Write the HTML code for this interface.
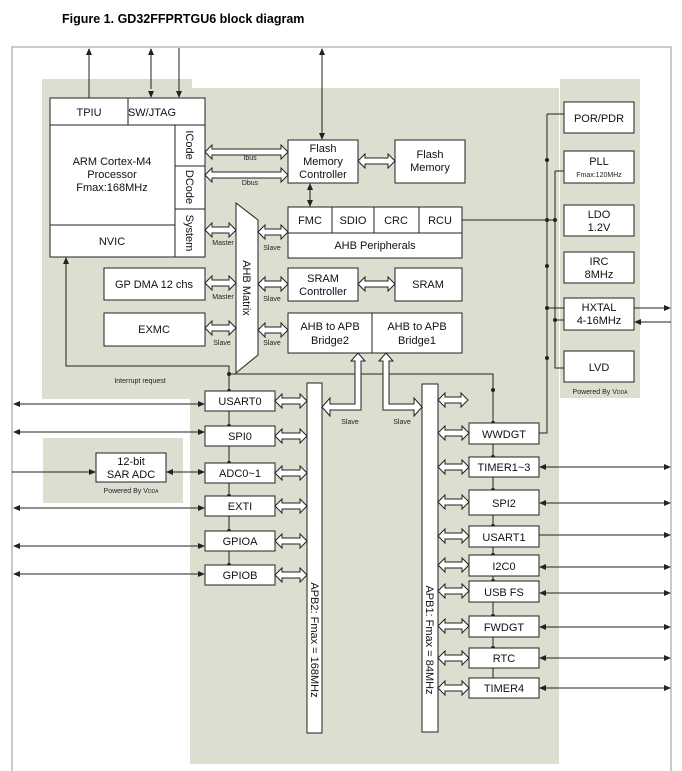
<!DOCTYPE html>
<html><head><meta charset="utf-8"><style>
html,body{margin:0;padding:0;background:#fff;}
svg{display:block;font-family:"Liberation Sans",Arial,sans-serif;}
</style></head><body>
<svg width="682" height="771" viewBox="0 0 682 771" xmlns="http://www.w3.org/2000/svg">
<text x="62" y="23" font-size="12.5" font-weight="bold">Figure 1. GD32FFPRTGU6 block diagram</text>
<path d="M12,771 V47 H671 V771" fill="none" stroke="#b8b8b8" stroke-width="1.5"/>
<g fill="#dcdfd0">
<rect x="42" y="79" width="150" height="320"/>
<rect x="190" y="88" width="369" height="676"/>
<rect x="560" y="79" width="80" height="319"/>
<rect x="43" y="438" width="140" height="65"/>
</g>
<g fill="#fff" stroke="#222" stroke-width="1">
<rect x="50" y="98" width="155" height="159"/>
<line x1="50" y1="125" x2="205" y2="125"/>
<line x1="128" y1="98" x2="128" y2="125"/>
<line x1="175" y1="125" x2="175" y2="257"/>
<line x1="175" y1="166" x2="205" y2="166"/>
<line x1="175" y1="209" x2="205" y2="209"/>
<line x1="50" y1="225" x2="175" y2="225"/>
<rect x="288" y="140" width="70" height="43"/>
<rect x="395" y="140" width="70" height="43"/>
<rect x="288" y="207" width="174" height="51"/>
<line x1="288" y1="233" x2="462" y2="233"/>
<line x1="332" y1="207" x2="332" y2="233"/>
<line x1="374" y1="207" x2="374" y2="233"/>
<line x1="419" y1="207" x2="419" y2="233"/>
<rect x="104" y="268" width="101" height="32"/>
<rect x="104" y="313" width="101" height="33"/>
<rect x="288" y="268" width="70" height="33"/>
<rect x="395" y="268" width="67" height="33"/>
<rect x="288" y="313" width="174" height="40"/>
<line x1="372" y1="313" x2="372" y2="353"/>
<polygon points="236,203 258,220 258,355 236,373"/>
<rect x="564" y="102" width="70" height="31"/>
<rect x="564" y="151" width="70" height="32"/>
<rect x="564" y="205" width="70" height="31"/>
<rect x="564" y="252" width="70" height="31"/>
<rect x="564" y="298" width="70" height="32"/>
<rect x="564" y="351" width="70" height="31"/>
<rect x="307" y="383" width="15" height="350"/>
<rect x="422" y="384" width="16" height="348"/>
<rect x="96" y="453" width="70" height="29"/>
</g>
<g stroke="#222" stroke-width="1" fill="none">
<line x1="89" y1="98" x2="89" y2="52"/>
<line x1="151" y1="52" x2="151" y2="89"/>
<line x1="179" y1="48" x2="179" y2="94"/>
<line x1="322" y1="52" x2="322" y2="136"/>
<line x1="310" y1="187" x2="310" y2="203"/>
<path d="M66,261 V366 H229 V585"/>
<path d="M229,374 H493 V688"/>
<path d="M547,114 H564 M547,114 V433 H539"/>
<path d="M555,171 H564 M555,171 V368 H564"/>
<path d="M462,220 H555"/>
<path d="M547,308 H564 M555,320 H564"/>
<path d="M634,308 H667 M671,322 H638"/>
<line x1="17" y1="404" x2="201" y2="404"/>
<line x1="17" y1="432" x2="201" y2="432"/>
<line x1="12" y1="472" x2="92" y2="472"/>
<line x1="170" y1="472" x2="201" y2="472"/>
<line x1="17" y1="508" x2="201" y2="508"/>
<line x1="17" y1="546" x2="201" y2="546"/>
<line x1="17" y1="574" x2="201" y2="574"/>
<line x1="543" y1="467" x2="667" y2="467"/>
<line x1="543" y1="503" x2="667" y2="503"/>
<line x1="539" y1="535" x2="667" y2="535"/>
<line x1="543" y1="567" x2="667" y2="567"/>
<line x1="543" y1="593" x2="667" y2="593"/>
<line x1="543" y1="627" x2="667" y2="627"/>
<line x1="543" y1="658" x2="667" y2="658"/>
<line x1="543" y1="688" x2="667" y2="688"/>
</g>
<g fill="#222">
<polygon points="89,48 86,55 92,55"/>
<polygon points="151,48 148,55 154,55"/>
<polygon points="151,98 148,91 154,91"/>
<polygon points="179,98 176,91 182,91"/>
<polygon points="322,48 319,55 325,55"/>
<polygon points="322,140 319,133 325,133"/>
<polygon points="310,183 307,190 313,190"/>
<polygon points="310,207 307,200 313,200"/>
<polygon points="66,257 63,264 69,264"/>
<polygon points="671,308 664,305 664,311"/>
<polygon points="634,322 641,319 641,325"/>
<polygon points="13,404 20,401 20,407"/><polygon points="205,404 198,401 198,407"/>
<polygon points="13,432 20,429 20,435"/><polygon points="205,432 198,429 198,435"/>
<polygon points="96,472 89,469 89,475"/>
<polygon points="166,472 173,469 173,475"/><polygon points="205,472 198,469 198,475"/>
<polygon points="13,508 20,505 20,511"/><polygon points="205,508 198,505 198,511"/>
<polygon points="13,546 20,543 20,549"/><polygon points="205,546 198,543 198,549"/>
<polygon points="13,574 20,571 20,577"/><polygon points="205,574 198,571 198,577"/>
<polygon points="539,467 546,464 546,470"/><polygon points="671,467 664,464 664,470"/>
<polygon points="539,503 546,500 546,506"/><polygon points="671,503 664,500 664,506"/>
<polygon points="671,535 664,532 664,538"/>
<polygon points="539,567 546,564 546,570"/><polygon points="671,567 664,564 664,570"/>
<polygon points="539,593 546,590 546,596"/><polygon points="671,593 664,590 664,596"/>
<polygon points="539,627 546,624 546,630"/><polygon points="671,627 664,624 664,630"/>
<polygon points="539,658 546,655 546,661"/><polygon points="671,658 664,655 664,661"/>
<polygon points="539,688 546,685 546,691"/><polygon points="671,688 664,685 664,691"/>
<circle cx="229" cy="374" r="2"/><circle cx="229" cy="391" r="2"/><circle cx="229" cy="426" r="2"/>
<circle cx="229" cy="463" r="2"/><circle cx="229" cy="496" r="2"/><circle cx="229" cy="531" r="2"/><circle cx="229" cy="565" r="2"/>
<circle cx="493" cy="390" r="2"/><circle cx="493" cy="423" r="2"/><circle cx="493" cy="457" r="2"/><circle cx="493" cy="490" r="2"/>
<circle cx="493" cy="526" r="2"/><circle cx="493" cy="555" r="2"/><circle cx="493" cy="581" r="2"/><circle cx="493" cy="616" r="2"/><circle cx="493" cy="648" r="2"/>
<circle cx="547" cy="160" r="2"/><circle cx="547" cy="220" r="2"/><circle cx="555" cy="220" r="2"/><circle cx="547" cy="266" r="2"/>
<circle cx="547" cy="308" r="2"/><circle cx="555" cy="320" r="2"/><circle cx="547" cy="358" r="2"/>
</g>
<g fill="#fff" stroke="#222" stroke-width="1">
<polygon points="205,152 212,145 212,149 281,149 281,145 288,152 281,159 281,155 212,155 212,159"/>
<polygon points="205,175 212,168 212,172 281,172 281,168 288,175 281,182 281,178 212,178 212,182"/>
<polygon points="358,161 365,154 365,158 388,158 388,154 395,161 388,168 388,164 365,164 365,168"/>
<polygon points="205,230 212,223 212,227 229,227 229,223 236,230 229,237 229,233 212,233 212,237"/>
<polygon points="258,232 265,225 265,229 281,229 281,225 288,232 281,239 281,235 265,235 265,239"/>
<polygon points="205,283 212,276 212,280 229,280 229,276 236,283 229,290 229,286 212,286 212,290"/>
<polygon points="258,284 265,277 265,281 281,281 281,277 288,284 281,291 281,287 265,287 265,291"/>
<polygon points="358,284 365,277 365,281 388,281 388,277 395,284 388,291 388,287 365,287 365,291"/>
<polygon points="205,328 212,321 212,325 229,325 229,321 236,328 229,335 229,331 212,331 212,335"/>
<polygon points="258,330 265,323 265,327 281,327 281,323 288,330 281,337 281,333 265,333 265,337"/>
<polygon points="358,353 365,361 361,361 361,410 330,410 330,416 322,407 330,398 330,404 355,404 355,361 351,361"/>
<polygon points="386,353 393,361 389,361 389,404 414,404 414,398 422,407 414,416 414,410 383,410 383,361 379,361"/>
<polygon points="275,401 282,394 282,398 300,398 300,394 307,401 300,408 300,404 282,404 282,408"/>
<polygon points="275,436 282,429 282,433 300,433 300,429 307,436 300,443 300,439 282,439 282,443"/>
<polygon points="275,473 282,466 282,470 300,470 300,466 307,473 300,480 300,476 282,476 282,480"/>
<polygon points="275,506 282,499 282,503 300,503 300,499 307,506 300,513 300,509 282,509 282,513"/>
<polygon points="275,541 282,534 282,538 300,538 300,534 307,541 300,548 300,544 282,544 282,548"/>
<polygon points="275,575 282,568 282,572 300,572 300,568 307,575 300,582 300,578 282,578 282,582"/>
<polygon points="438,400 445,393 445,397 461,397 461,393 468,400 461,407 461,403 445,403 445,407"/>
<polygon points="438,433 445,426 445,430 462,430 462,426 469,433 462,440 462,436 445,436 445,440"/>
<polygon points="438,467 445,460 445,464 462,464 462,460 469,467 462,474 462,470 445,470 445,474"/>
<polygon points="438,502 445,495 445,499 462,499 462,495 469,502 462,509 462,505 445,505 445,509"/>
<polygon points="438,536 445,529 445,533 462,533 462,529 469,536 462,543 462,539 445,539 445,543"/>
<polygon points="438,565 445,558 445,562 462,562 462,558 469,565 462,572 462,568 445,568 445,572"/>
<polygon points="438,591 445,584 445,588 462,588 462,584 469,591 462,598 462,594 445,594 445,598"/>
<polygon points="438,626 445,619 445,623 462,623 462,619 469,626 462,633 462,629 445,629 445,633"/>
<polygon points="438,658 445,651 445,655 462,655 462,651 469,658 462,665 462,661 445,661 445,665"/>
<polygon points="438,688 445,681 445,685 462,685 462,681 469,688 462,695 462,691 445,691 445,695"/>
<rect x="205" y="391" width="70" height="20"/>
<rect x="205" y="426" width="70" height="20"/>
<rect x="205" y="463" width="70" height="20"/>
<rect x="205" y="496" width="70" height="20"/>
<rect x="205" y="531" width="70" height="20"/>
<rect x="205" y="565" width="70" height="20"/>
<rect x="469" y="423" width="70" height="21"/>
<rect x="469" y="457" width="70" height="20"/>
<rect x="469" y="490" width="70" height="25"/>
<rect x="469" y="526" width="70" height="21"/>
<rect x="469" y="555" width="70" height="21"/>
<rect x="469" y="581" width="70" height="21"/>
<rect x="469" y="616" width="70" height="21"/>
<rect x="469" y="648" width="70" height="20"/>
<rect x="469" y="678" width="70" height="20"/>
</g>
<g font-size="11" fill="#111" text-anchor="middle">
<text x="89" y="116">TPIU</text>
<text x="152" y="116">SW/JTAG</text>
<text x="112" y="165">ARM Cortex-M4</text>
<text x="112" y="178">Processor</text>
<text x="112" y="191">Fmax:168MHz</text>
<text x="112" y="245">NVIC</text>
<text x="154" y="288">GP DMA 12 chs</text>
<text x="154" y="333">EXMC</text>
<text x="323" y="152">Flash</text>
<text x="323" y="165">Memory</text>
<text x="323" y="178">Controller</text>
<text x="430" y="158">Flash</text>
<text x="430" y="171">Memory</text>
<text x="310" y="224">FMC</text>
<text x="353" y="224">SDIO</text>
<text x="396" y="224">CRC</text>
<text x="440" y="224">RCU</text>
<text x="375" y="249">AHB Peripherals</text>
<text x="323" y="282">SRAM</text>
<text x="323" y="295">Controller</text>
<text x="428" y="288">SRAM</text>
<text x="330" y="330">AHB to APB</text>
<text x="330" y="344">Bridge2</text>
<text x="417" y="330">AHB to APB</text>
<text x="417" y="344">Bridge1</text>
<text x="599" y="122">POR/PDR</text>
<text x="599" y="165">PLL</text>
<text x="599" y="218">LDO</text>
<text x="599" y="231">1.2V</text>
<text x="599" y="265">IRC</text>
<text x="599" y="278">8MHz</text>
<text x="599" y="311">HXTAL</text>
<text x="599" y="324">4-16MHz</text>
<text x="599" y="371">LVD</text>
<text x="131" y="465">12-bit</text>
<text x="131" y="478">SAR ADC</text>
<text x="240" y="405">USART0</text>
<text x="240" y="440">SPI0</text>
<text x="240" y="477">ADC0~1</text>
<text x="240" y="510">EXTI</text>
<text x="240" y="545">GPIOA</text>
<text x="240" y="579">GPIOB</text>
<text x="504" y="438">WWDGT</text>
<text x="504" y="471">TIMER1~3</text>
<text x="504" y="507">SPI2</text>
<text x="504" y="541">USART1</text>
<text x="504" y="570">I2C0</text>
<text x="504" y="596">USB FS</text>
<text x="504" y="631">FWDGT</text>
<text x="504" y="662">RTC</text>
<text x="504" y="692">TIMER4</text>
</g>
<g font-size="7" fill="#222" text-anchor="middle">
<text x="250" y="160">Ibus</text>
<text x="250" y="185">Dbus</text>
<text x="223" y="245">Master</text>
<text x="272" y="250">Slave</text>
<text x="223" y="299">Master</text>
<text x="272" y="301">Slave</text>
<text x="222" y="345">Slave</text>
<text x="272" y="345">Slave</text>
<text x="140" y="383">Interrupt request</text>
<text x="350" y="424">Slave</text>
<text x="402" y="424">Slave</text>
<text x="599" y="177">Fmax:120MHz</text>
<text x="600" y="394">Powered By V<tspan font-size="5">DDA</tspan></text>
<text x="131" y="493">Powered By V<tspan font-size="5">DDA</tspan></text>
</g>
<g font-size="11" fill="#111">
<text transform="translate(186,145) rotate(90)" text-anchor="middle">ICode</text>
<text transform="translate(186,187) rotate(90)" text-anchor="middle">DCode</text>
<text transform="translate(186,233) rotate(90)" text-anchor="middle">System</text>
<text transform="translate(243,288) rotate(90)" text-anchor="middle">AHB Matrix</text>
<text transform="translate(311,640) rotate(90)" text-anchor="middle">APB2: Fmax = 168MHz</text>
<text transform="translate(426,640) rotate(90)" text-anchor="middle">APB1: Fmax = 84MHz</text>
</g>
</svg>
</body></html>
